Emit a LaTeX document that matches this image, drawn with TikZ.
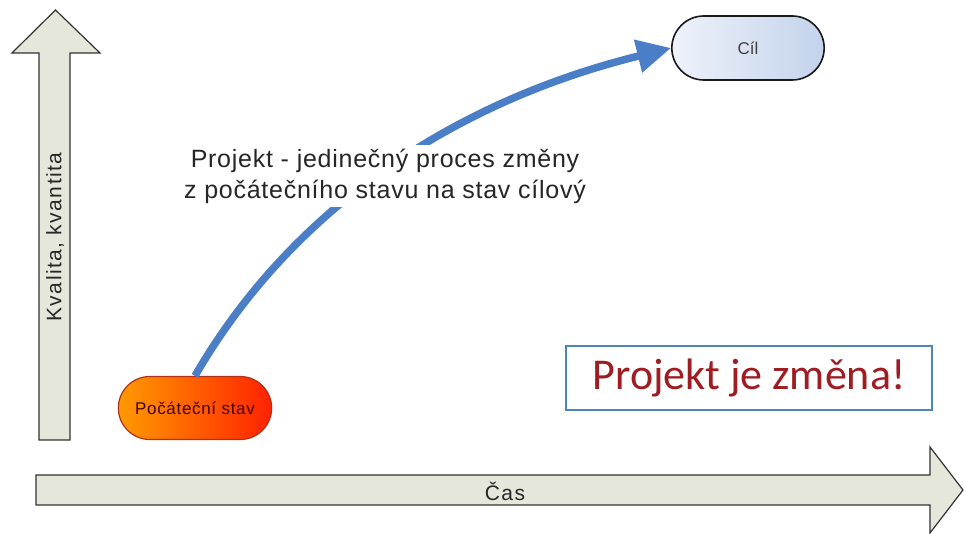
\documentclass[tikz,border=0pt]{standalone}
\usepackage{fontspec}
\setmainfont{Liberation Sans}
\newfontfamily\mottofont{Carlito}
\usetikzlibrary{arrows.meta, shapes.misc}

\definecolor{axisfill}{HTML}{E4E7D9}
\definecolor{flowblue}{HTML}{4A7EC7}
\definecolor{mottored}{HTML}{9E1C22}
\definecolor{mottoblue}{HTML}{4A86B8}
\definecolor{goalleft}{HTML}{EEF2FA}
\definecolor{goalright}{HTML}{C3D3EC}
\definecolor{startorange}{HTML}{FF9A00}
\definecolor{startred}{HTML}{FF2200}
\definecolor{startborder}{HTML}{B0301A}

\begin{document}
\begin{tikzpicture}[
        x=1pt, y=-1pt,
        axis/.style={draw=black!80, line width=1.2pt, fill=axisfill, line join=miter},
        axislabel/.style={font=\fontsize{21}{24}\selectfont\addfontfeature{LetterSpace=7}, text=black!85},
        goal/.style={rounded rectangle, draw=black!90, line width=1.6pt, left color=goalleft, right color=goalright,
            minimum width=159pt, minimum height=64pt, font=\fontsize{17}{19}\selectfont, text=black!75},
        start/.style={rounded rectangle, draw=startborder, line width=1.2pt, left color=startorange, right color=startred,
            minimum width=160pt, minimum height=63pt, font=\fontsize{17}{19}\selectfont\addfontfeature{LetterSpace=4},
            text=black!75!red},
        motto/.style={rectangle, draw=mottoblue, line width=1.5pt, fill=white, minimum width=366pt, minimum height=64pt,
            font=\mottofont\fontsize{44}{46}\selectfont, text=mottored},
        desc/.style={fill=white, align=center, inner sep=4pt,
            font=\fontsize{25}{31}\selectfont\addfontfeature{LetterSpace=3}, text=black!85},
        flow/.style={-{Triangle[length=34pt, width=32pt]}, draw=flowblue, line width=7.5pt}
    ]
    \useasboundingbox (0,0) rectangle (964,534);

    % --- Axes ---

    % Quality axis (vertical)
    \draw[axis] (39,440) -- (39,53) -- (12,53) -- (55.5,10) -- (100,53) -- (70,53) -- (70,440) -- cycle;
    \node[axislabel, rotate=90] (quality) at (55,237) {Kvalita, kvantita};

    % Time axis (horizontal)
    \draw[axis] (36,475) -- (930,475) -- (930,447) -- (963,490) -- (930,533) -- (930,505) -- (36,505) -- cycle;
    \node[axislabel] (time) at (505,491) {Čas};

    % --- States ---
    \node[goal] (cil) at (748,48) {Cíl};
    \node[start] (pocatek) at (195,408) {Počáteční stav};

    % Change as a curved path
    \draw[flow] (pocatek.north) .. controls (285,220) and (440,105) .. (cil.west);

    % Description covers the path
    \node[desc] (popis) at (385,176) {Projekt - jedinečný proces změny\\z počátečního stavu na stav cílový};

    % Message box
    \node[motto] (zmena) at (749,378) {Projekt je změna!};

\end{tikzpicture}
\end{document}
